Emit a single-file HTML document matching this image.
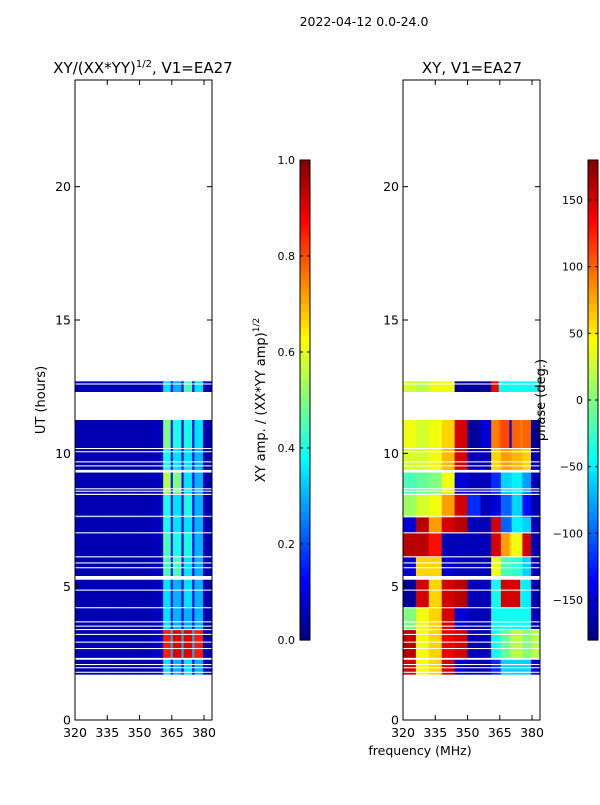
<!DOCTYPE html>
<html><head><meta charset="utf-8"><style>
body{margin:0;background:#fff}
svg text{font-family:"DejaVu Sans","Liberation Sans",sans-serif;fill:#000}
</style></head><body>
<svg id="fig" width="600" height="800" xmlns="http://www.w3.org/2000/svg">
<text x="364" y="26" font-size="12.5" text-anchor="middle">2022-04-12 0.0-24.0</text>
<text x="143" y="73" font-size="15" text-anchor="middle">XY/(XX*YY)<tspan font-size="10" dy="-6">1/2</tspan><tspan dy="6">, V1=EA27</tspan></text>
<text x="472" y="73" font-size="15" text-anchor="middle">XY, V1=EA27</text>
<text transform="translate(45,400) rotate(-90)" font-size="13" text-anchor="middle">UT (hours)</text>
<text transform="translate(265,400) rotate(-90)" font-size="13" text-anchor="middle">XY amp. / (XX*YY amp)<tspan font-size="9" dy="-6">1/2</tspan></text>
<text x="420" y="755" font-size="12.5" text-anchor="middle">frequency (MHz)</text>
<g id="amp"></g>
<g id="phase"></g>
<g id="cb1"></g>
<g id="cb2"></g>
<text transform="translate(545,400) rotate(-90)" font-size="13" text-anchor="middle">phase (deg.)</text>
</svg>
<script>
const freqEdges=[320,326,332,338,344,350,356,361,364.5,365.5,369.5,370.5,374.5,375.5,379.5,384];
const bandStart=[1.7,2.3,3.4,4.2,5.4,6.1,7.0,7.6,8.5,9.35,10.2,12.3];
const bandEnd=[2.3,3.4,4.2,5.4,6.1,7.0,7.6,8.5,9.35,10.2,11.25,12.7];
const ampRows=[
[0.05,0.05,0.05,0.05,0.05,0.05,0.06,0.35,0.1,0.3,0.1,0.35,0.1,0.3,0.05],
[0.05,0.05,0.05,0.05,0.05,0.05,0.07,0.85,0.3,0.9,0.3,0.9,0.3,0.85,0.05],
[0.05,0.05,0.05,0.05,0.05,0.05,0.06,0.35,0.1,0.3,0.1,0.3,0.1,0.3,0.05],
[0.05,0.05,0.05,0.05,0.05,0.05,0.06,0.35,0.12,0.3,0.12,0.35,0.1,0.3,0.05],
[0.05,0.05,0.05,0.05,0.05,0.05,0.06,0.45,0.15,0.45,0.12,0.35,0.1,0.3,0.05],
[0.05,0.05,0.05,0.05,0.05,0.05,0.06,0.45,0.15,0.4,0.12,0.4,0.1,0.3,0.05],
[0.05,0.05,0.05,0.05,0.05,0.05,0.06,0.4,0.12,0.35,0.12,0.35,0.1,0.3,0.05],
[0.05,0.05,0.05,0.05,0.05,0.05,0.06,0.4,0.12,0.35,0.12,0.4,0.1,0.3,0.05],
[0.05,0.05,0.05,0.05,0.05,0.05,0.06,0.55,0.15,0.5,0.12,0.35,0.1,0.3,0.05],
[0.05,0.05,0.05,0.05,0.05,0.05,0.06,0.4,0.12,0.35,0.12,0.35,0.1,0.3,0.05],
[0.05,0.05,0.05,0.05,0.05,0.05,0.06,0.5,0.15,0.4,0.12,0.4,0.1,0.35,0.05],
[0.05,0.05,0.05,0.05,0.05,0.05,0.06,0.35,0.12,0.3,0.12,0.45,0.1,0.35,0.05]];
const phaseRows=[
[150,40,60,150,-150,-160,-160,-120,-120,-60,-60,-60,-60,-60,-150],
[160,40,60,140,150,-160,-160,-40,-30,-10,10,20,30,0,20],
[0,40,60,150,-150,-160,-160,-40,-40,-40,-40,-40,-40,-40,-160],
[-170,150,60,150,160,-160,-160,-40,-40,150,150,150,-40,-50,-160],
[-150,60,60,-150,-160,-160,-160,40,40,-20,-20,-30,-30,-60,-160],
[160,160,130,-160,-160,-160,-160,150,150,80,60,40,40,150,-160],
[-150,160,80,150,160,-160,-160,150,150,-100,-100,-50,-50,-60,-160],
[10,30,40,80,150,-120,-160,-150,-150,-100,-100,-60,-60,-130,-160],
[-20,-10,0,40,-150,-160,-160,-120,-120,-60,-60,-50,-50,-80,-160],
[30,30,40,70,150,-160,-160,60,60,80,80,70,70,60,-160],
[40,30,40,60,150,-170,-150,90,100,110,-150,100,90,100,-170],
[30,20,40,40,-170,-170,-170,140,-40,-40,-40,-40,-40,-40,-40]];
const gapStart=[1.77,1.94,2.06,2.26,2.66,2.9,3.19,3.37,3.5,3.66,4.19,4.85,5.26,5.69,5.87,6.1,7.0,7.62,8.44,8.56,8.65,9.28,9.51,9.66,10.04,10.16,12.58];
const gapLen=[0.04,0.04,0.04,0.07,0.04,0.04,0.04,0.04,0.04,0.04,0.04,0.04,0.14,0.04,0.04,0.04,0.04,0.04,0.04,0.04,0.04,0.1,0.04,0.04,0.04,0.04,0.04];
const xTicks=[320,335,350,365,380];
const yTicks=[0,5,10,15,20];
const ampTicks=[0.0,0.2,0.4,0.6,0.8,1.0];
const phaseTicks=[-150,-100,-50,0,50,100,150];

const NS='http://www.w3.org/2000/svg';
function mk(p,t,a){const e=document.createElementNS(NS,t);for(const k in a)e.setAttribute(k,a[k]);p.appendChild(e);return e;}
function jet(v){v=Math.max(0,Math.min(1,v));
 const f=x=>Math.max(0,Math.min(1,x));
 const r=f(Math.min(4*v-1.5,-4*v+4.5)),g=f(Math.min(4*v-0.5,-4*v+3.5)),b=f(Math.min(4*v+0.5,-4*v+2.5));
 return `rgb(${Math.round(r*255)},${Math.round(g*255)},${Math.round(b*255)})`;}
const Y0=720,Y1=80;
const yS=h=>Y0-(h/24)*(Y0-Y1);
function panel(g,x0,rows,norm){
 const xS=f=>x0+(f-320)*(137/63.7);
 const clip='c'+x0;
 const cp=mk(g,'clipPath',{id:clip});mk(cp,'rect',{x:x0,y:Y1,width:137,height:Y0-Y1});
 const gg=mk(g,'g',{'clip-path':`url(#${clip})`});
 rows.forEach((row,i)=>{row.forEach((v,j)=>{
  const c=mk(gg,'rect',{x:xS(freqEdges[j]),y:yS(bandEnd[i]),width:xS(freqEdges[j+1])-xS(freqEdges[j])+0.5,height:yS(bandStart[i])-yS(bandEnd[i]),fill:jet(norm(v))});
  
  
 });});
 gapStart.forEach((s,i)=>{
  const r=mk(gg,'rect',{x:x0,y:yS(s+gapLen[i]),width:137,height:yS(s)-yS(s+gapLen[i]),fill:'#fff'});
  
  
 });
 mk(g,'rect',{x:x0,y:Y1,width:137,height:Y0-Y1,fill:'none',stroke:'#000','stroke-width':1});
 xTicks.forEach(t=>{const x=xS(t);
  mk(g,'line',{x1:x,x2:x,y1:Y0,y2:Y0-5,stroke:'#000'});mk(g,'line',{x1:x,x2:x,y1:Y1,y2:Y1+5,stroke:'#000'});
  const tx=mk(g,'text',{x:x,y:Y0+17,'font-size':12.5,'text-anchor':'middle'});tx.textContent=t;
  
  });
 yTicks.forEach(t=>{const y=yS(t);
  mk(g,'line',{x1:x0,x2:x0+5,y1:y,y2:y,stroke:'#000'});mk(g,'line',{x1:x0+137,x2:x0+132,y1:y,y2:y,stroke:'#000'});
  const tx=mk(g,'text',{x:x0-4,y:y+4.5,'font-size':12.5,'text-anchor':'end'});tx.textContent=t;
  
  });
}
panel(document.getElementById('amp'),75,ampRows,v=>v);
panel(document.getElementById('phase'),403,phaseRows,v=>(v+180)/360);
function cbar(g,x,ticks,lo,hi,fmt){
 const T=160,B=640,n=120;
 for(let i=0;i<n;i++){mk(g,'rect',{x:x,y:B-(i+1)*(B-T)/n,width:10,height:(B-T)/n+0.6,fill:jet((i+0.5)/n)});}
 mk(g,'rect',{x:x,y:T,width:10,height:B-T,fill:'none',stroke:'#000','stroke-width':1});
 ticks.forEach(t=>{const y=B-(t-lo)/(hi-lo)*(B-T);
  mk(g,'line',{x1:x,x2:x+3,y1:y,y2:y,stroke:'#000'});mk(g,'line',{x1:x+10,x2:x+7,y1:y,y2:y,stroke:'#000'});
  const tx=mk(g,'text',{x:x-5,y:y+4,'font-size':11,'text-anchor':'end'});tx.textContent=fmt(t);
  
  });
}
cbar(document.getElementById('cb1'),300,ampTicks,0,1,t=>t.toFixed(1));
cbar(document.getElementById('cb2'),588,phaseTicks,-180,180,t=>t<0?'\u2212'+(-t):''+t);
</script>
</body></html>
